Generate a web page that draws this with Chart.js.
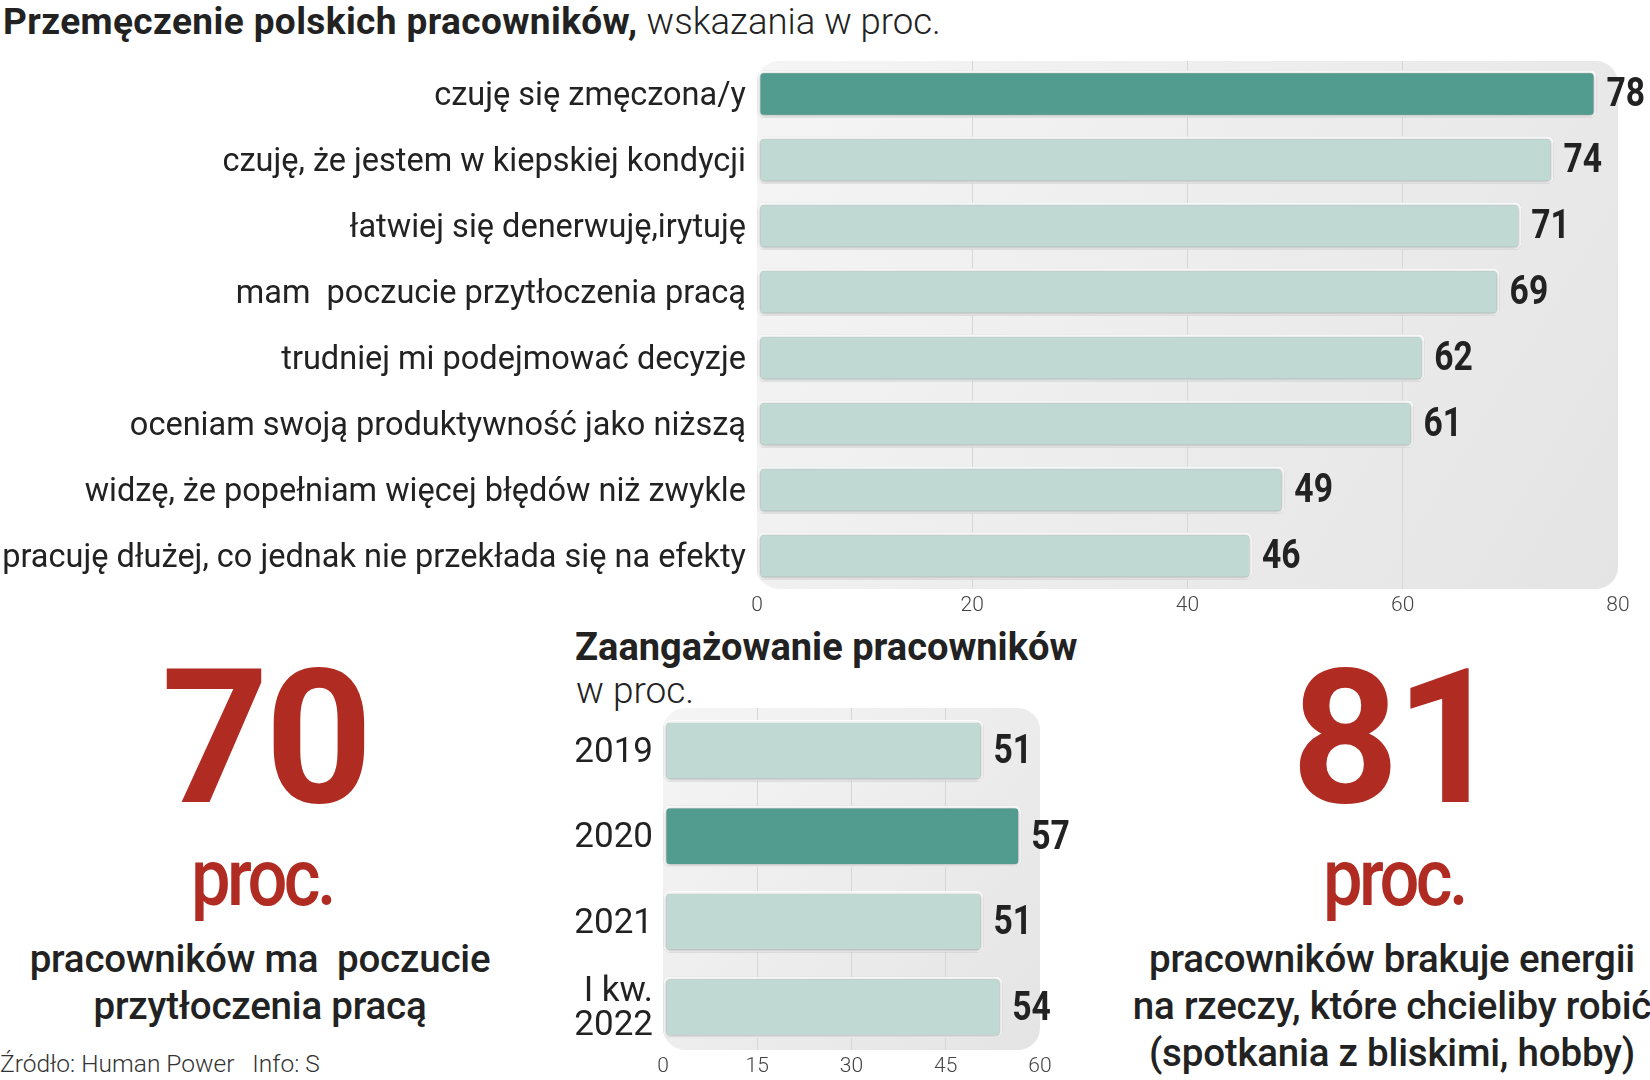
<!DOCTYPE html>
<html lang="pl">
<head>
<meta charset="utf-8">
<script src="https://cdn.jsdelivr.net/npm/chart.js@4.4.1/dist/chart.umd.min.js"></script>
<style>
  html, body { margin: 0; padding: 0; background: #fff; }
  body { width: 1650px; height: 1080px; position: relative; overflow: hidden; font-family: Roboto, "Noto Sans", sans-serif; color: #222; }
  .abs { position: absolute; white-space: nowrap; }
  #title { left: 3px; top: 2px; font-size: 37px; line-height: 40px; }
  #title b { font-weight: 700; letter-spacing: 0.4px; }
  #title span { font-weight: 300; font-size: 36.5px; }
  #title2 { left: 575px; top: 627px; font-size: 38px; line-height: 40px; font-weight: 700; letter-spacing: 0px; }
  #sub2 { left: 576px; top: 671px; font-size: 37px; line-height: 40px; font-weight: 300; }
  .big { font-size: 188px; line-height: 1; font-weight: 700; color: #b02b21; transform: translateX(-50%); letter-spacing: -4px; }
  .proc { font-size: 80px; line-height: 1; font-weight: 500; color: #b02b21; transform: translateX(-50%) scaleX(0.88); letter-spacing: -4px; }
  .desc { font-size: 38.5px; line-height: 47px; font-weight: 500; text-align: center; transform: translateX(-50%); letter-spacing: -0.2px; }
  #source { left: 0; top: 1049px; font-size: 24.5px; line-height: 30px; font-weight: 300; color: #333; }
</style>
</head>
<body>
<div id="title" class="abs"><b>Przemęczenie polskich pracowników,</b> <span>wskazania w proc.</span></div>

<div class="abs" style="left:0;top:0;width:1650px;height:625px;"><canvas id="chartTop" width="1650" height="625"></canvas></div>

<div id="title2" class="abs">Zaangażowanie pracowników</div>
<div id="sub2" class="abs">w proc.</div>
<div class="abs" style="left:540px;top:700px;width:560px;height:380px;"><canvas id="chartBottom" width="560" height="380"></canvas></div>

<div class="abs big" style="left:265px;top:644px;">70</div>
<div class="abs proc" style="left:262px;top:838px;">proc.</div>
<div class="abs desc" style="left:260px;top:935px;">pracowników ma&nbsp; poczucie<br>przytłoczenia pracą</div>

<div class="abs big" style="left:1395px;top:644px;">81</div>
<div class="abs proc" style="left:1394px;top:838px;">proc.</div>
<div class="abs desc" style="left:1392px;top:935px;">pracowników brakuje energii<br>na rzeczy, które chcieliby robić<br>(spotkania z bliskimi, hobby)</div>

<div id="source" class="abs">Źródło: Human Power &nbsp; Info: S</div>

<script>
// dane - przemęczenie
var fatigueLabels = [
  'czuję się zmęczona/y',
  'czuję, że jestem w kiepskiej kondycji',
  'łatwiej się denerwuję,irytuję',
  'mam  poczucie przytłoczenia pracą',
  'trudniej mi podejmować decyzje',
  'oceniam swoją produktywność jako niższą',
  'widzę, że popełniam więcej błędów niż zwykle',
  'pracuję dłużej, co jednak nie przekłada się na efekty'
];
var fatigueValues = [78, 74, 71, 69, 62, 61, 49, 46];
var fatigueHighlight = 0;

// dane - zaangażowanie
var engageLabels = ['2019', '2020', '2021', ['I kw.', '2022']];
var engageValues = [51, 57, 51, 54];
var engageHighlight = 1;

var DARK = '#529c8f';
var LIGHT = '#c1d9d3';

function colorsFor(values, hi) {
  return values.map(function (v, i) { return i === hi ? DARK : LIGHT; });
}

// tło obszaru wykresu (zaokrąglony prostokąt)
var plotBackground = {
  id: 'plotBackground',
  beforeDraw: function (chart, args, opts) {
    var a = chart.chartArea, ctx = chart.ctx;
    var g = ctx.createLinearGradient(a.left, a.top, a.right, a.bottom);
    g.addColorStop(0, '#f5f5f5');
    g.addColorStop(1, '#e4e4e4');
    ctx.save();
    ctx.fillStyle = g;
    ctx.beginPath();
    ctx.roundRect(a.left, a.top, a.right - a.left, a.bottom - a.top, opts.radius || 20);
    ctx.fill();
    ctx.restore();
  }
};

// cień pod słupkami
var barShadow = {
  id: 'barShadow',
  beforeDatasetsDraw: function (chart) {
    var ctx = chart.ctx;
    ctx.save();
    ctx.shadowColor = 'rgba(0,0,0,0.35)';
    ctx.shadowBlur = 4;
    ctx.shadowOffsetX = 0;
    ctx.shadowOffsetY = 1;
  },
  afterDatasetsDraw: function (chart) {
    chart.ctx.restore();
  }
};

// wartości przy słupkach
var valueLabels = {
  id: 'valueLabels',
  afterDatasetsDraw: function (chart) {
    var ctx = chart.ctx;
    var meta = chart.getDatasetMeta(0);
    var data = chart.data.datasets[0].data;
    ctx.save();
    ctx.fillStyle = '#222';
    ctx.font = 'bold 41px Roboto';
    ctx.textBaseline = 'middle';
    ctx.textAlign = 'left';
    meta.data.forEach(function (bar, i) {
      ctx.save();
      ctx.translate(bar.x + 10, bar.y + 2);
      ctx.scale(0.82, 1);
      ctx.fillText(String(data[i]), 0, 0);
      ctx.restore();
    });
    ctx.restore();
  }
};

function gridColor(maxVal) {
  return function (c) {
    var v = c.tick ? c.tick.value : null;
    return (v === 0 || v === maxVal) ? 'rgba(0,0,0,0)' : '#d6d6d6';
  };
}

// bez dodatkowego marginesu od etykiet osi kategorii
function fitCategoryAxis(width) {
  return function (s) {
    s.width = width;
    s.paddingTop = 0;
    s.paddingBottom = 0;
  };
}

Chart.defaults.font.family = 'Roboto';
Chart.defaults.color = '#222';

new Chart(document.getElementById('chartTop'), {
  type: 'bar',
  data: {
    labels: fatigueLabels,
    datasets: [{
      data: fatigueValues,
      backgroundColor: colorsFor(fatigueValues, fatigueHighlight),
      borderColor: '#ffffff',
      borderWidth: 3,
      borderRadius: 6,
      borderSkipped: false,
      barPercentage: 0.72,
      categoryPercentage: 1
    }]
  },
  options: {
    indexAxis: 'y',
    responsive: false,
    animation: false,
    devicePixelRatio: 1,
    layout: { padding: { top: 61, right: 32, left: 0, bottom: 0 } },
    plugins: { legend: { display: false }, tooltip: { enabled: false }, plotBackground: { radius: 22 } },
    scales: {
      x: {
        min: 0, max: 80,
        ticks: { stepSize: 20, padding: 4, color: '#444', font: { size: 21, weight: 300 } },
        grid: { color: gridColor(80), drawTicks: false, lineWidth: 1 },
        border: { display: false },
        afterFit: function (s) { s.height = 36; }
      },
      y: {
        ticks: { padding: 3, labelOffset: 3, color: '#222', font: { size: 32.5 } },
        grid: { display: false },
        border: { display: false },
        afterFit: fitCategoryAxis(757)
      }
    }
  },
  plugins: [plotBackground, barShadow, valueLabels]
});

new Chart(document.getElementById('chartBottom'), {
  type: 'bar',
  data: {
    labels: engageLabels,
    datasets: [{
      data: engageValues,
      backgroundColor: colorsFor(engageValues, engageHighlight),
      borderColor: '#ffffff',
      borderWidth: 3,
      borderRadius: 6,
      borderSkipped: false,
      barPercentage: 0.72,
      categoryPercentage: 1
    }]
  },
  options: {
    indexAxis: 'y',
    responsive: false,
    animation: false,
    devicePixelRatio: 1,
    layout: { padding: { top: 8, right: 60, left: 0, bottom: 0 } },
    plugins: { legend: { display: false }, tooltip: { enabled: false }, plotBackground: { radius: 22 } },
    scales: {
      x: {
        min: 0, max: 60,
        ticks: { stepSize: 15, padding: 4, color: '#444', font: { size: 21, weight: 300 } },
        grid: { color: gridColor(60), drawTicks: false, lineWidth: 1 },
        border: { display: false },
        afterFit: function (s) { s.height = 30; }
      },
      y: {
        ticks: { padding: 2, labelOffset: 2, color: '#222', font: { size: 35, lineHeight: 0.95 } },
        grid: { display: false },
        border: { display: false },
        afterFit: fitCategoryAxis(123)
      }
    }
  },
  plugins: [plotBackground, barShadow, valueLabels]
});
</script>
</body>
</html>
